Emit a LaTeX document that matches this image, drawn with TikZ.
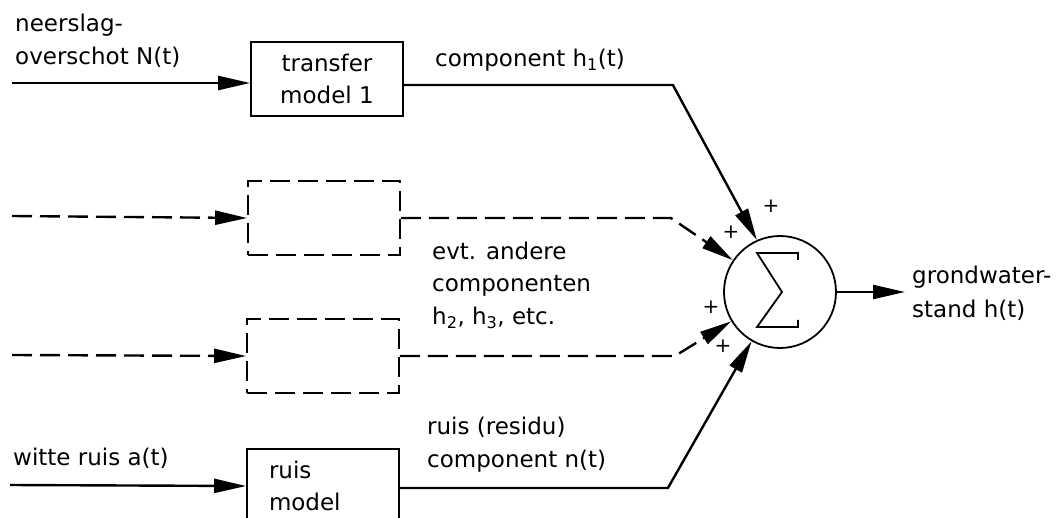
\documentclass[tikz,border=0pt]{standalone}
\usepackage{fontspec}
\setmainfont{DejaVu Sans}
\usetikzlibrary{arrows.meta}
\begin{document}
\begin{tikzpicture}[x=1pt,y=-1pt,
  lbl/.style={font=\fontsize{23}{33}\selectfont, inner sep=0pt, align=left},
  blk/.style={draw, line width=1.8pt, minimum width=152pt, minimum height=74pt,
              inner sep=0pt, font=\fontsize{23}{32}\selectfont},
  dblk/.style={blk, dash pattern=on 20pt off 8pt},
  flow/.style={line width=2.4pt, line join=miter, -{Triangle[length=32pt,width=14pt]}},
  dflow/.style={flow, dash pattern=on 20pt off 8pt},
  sgn/.style={font=\fontsize{20}{20}\selectfont, inner sep=0pt}]

\path[use as bounding box, clip] (0,0) rectangle (1062,518);

% model blocks
\node[blk, align=center] (tm1) at (327,79) {transfer\\model 1};
\node[dblk] (db1) at (324,218) {};
\node[dblk] (db2) at (323,356) {};
\node[blk, text width=108pt, align=left] (rm) at (323,486) {ruis\\model};

% summation junction with its sigma sign
\node[draw, circle, line width=1.8pt, minimum size=112pt, inner sep=0pt] (sum) at (780,292) {};
\draw[shift={(sum.center)}, line width=1.8pt, line join=miter]
  (18,-32) -- (18,-39) -- (-23,-39) -- (2,0) -- (-23,35) -- (18,35) -- (18,28);

% free ends of the input and output lines
\coordinate (in1) at (12,83);
\coordinate (in2) at (12,216);
\coordinate (in3) at (12,355);
\coordinate (in4) at (10,485);
\coordinate (out) at (905,292);

% inputs
\draw[flow] (in1) -- ([yshift=-4pt]tm1.west);
\draw[dflow] (in2) -- (db1.west);
\draw[dflow] (in3) -- (db2.west);
\draw[flow] (in4) -- (rm.west);

% components into the summation
\draw[flow] ([yshift=-6pt]tm1.east) -- ++(269,0) -- (sum.114);
\draw[dflow] (db1.east) -- ++(270,0) -- (sum.146);
\draw[dflow] (db2.east) -- ++(275,0) -- (sum.211);
\draw[flow] ([yshift=-2pt]rm.east) -- ++(268,0) -- (sum.240);

% output
\draw[flow] (sum.east) -- (out);

% signs
\node[sgn] (p1) at (771,206) {+};
\node[sgn] (p2) at (731,232) {+};
\node[sgn] (p3) at (711,307) {+};
\node[sgn] (p4) at (723,346) {+};

% labels (anchored on the baseline of their last line)
\node[lbl, anchor=base west] (nN) at (15,65) {neerslag-\\overschot N(t)};
\node[lbl, anchor=base west] (h1) at (435,67) {component h\textsubscript{1}(t)};
\node[lbl, anchor=base west] (hh) at (432,325) {evt. andere\\componenten\\h\textsubscript{2}, h\textsubscript{3}, etc.};
\node[lbl, anchor=base west] (wr) at (13,465) {witte ruis a(t)};
\node[lbl, anchor=base west] (nt) at (427,467) {ruis (residu)\\component n(t)};
\node[lbl, anchor=base west] (gw) at (912,317) {grondwater-\\stand h(t)};
\end{tikzpicture}
\end{document}
